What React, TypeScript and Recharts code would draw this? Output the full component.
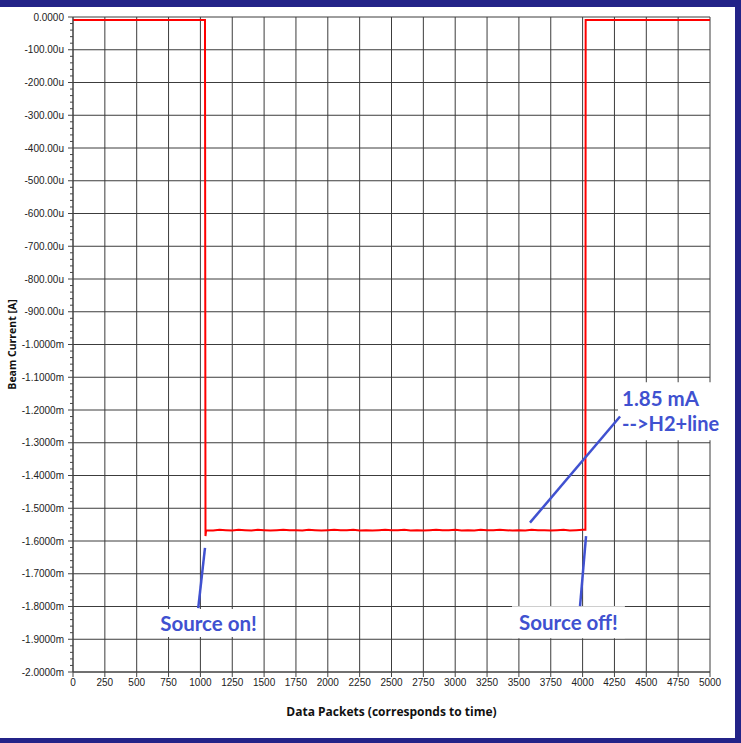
import React from 'react';
import { LineChart, Line, XAxis, YAxis, CartesianGrid, ReferenceLine, ReferenceArea } from 'recharts';

// Data packets (x) and beam current in microamps (y)
const packets = [
  0, 500, 1036, 1040, 1045, 1100, 1150, 1200, 1250, 1300, 1350, 1400, 1450, 1500, 1550,
  1600, 1650, 1700, 1750, 1800, 1850, 1900, 1950, 2000, 2050, 2100, 2150, 2200, 2250,
  2300, 2350, 2400, 2450, 2500, 2550, 2600, 2650, 2700, 2750, 2800, 2850, 2900, 2950,
  3000, 3050, 3100, 3150, 3200, 3250, 3300, 3350, 3400, 3450, 3500, 3550, 3600, 3650,
  3700, 3750, 3800, 3850, 3900, 3950, 4000, 4018, 4022, 4024, 4500, 5000,
];
const beamCurrentMicroA = [
  -9, -9, -9, -1585, -1567, -1568, -1566, -1567, -1568, -1566, -1567, -1568, -1566, -1567, -1568,
  -1567, -1566, -1567, -1567, -1568, -1566, -1567, -1568, -1567, -1566, -1567, -1567, -1566, -1568,
  -1567, -1568, -1567, -1566, -1567, -1567, -1566, -1568, -1567, -1568, -1567, -1566, -1567, -1567,
  -1566, -1568, -1567, -1568, -1566, -1567, -1567, -1566, -1567, -1568, -1567, -1568, -1566, -1567,
  -1567, -1568, -1567, -1566, -1568, -1567, -1566, -1566, -1566, -9, -9, -9,
];

const xTicks = [0, 250, 500, 750, 1000, 1250, 1500, 1750, 2000, 2250, 2500, 2750, 3000, 3250, 3500, 3750, 4000, 4250, 4500, 4750, 5000];
const yMajorTicks = [0, -100, -200, -300, -400, -500, -600, -700, -800, -900, -1000, -1100, -1200, -1300, -1400, -1500, -1600, -1700, -1800, -1900, -2000];
const yAllTicks = Array.from({ length: 101 }, (_, i) => -i * 20);

// Annotations (data coordinates)
const sourceOnLine = [{ x: 983, y: -1805 }, { x: 1036, y: -1621 }];
const sourceOffLine = [{ x: 3980, y: -1799 }, { x: 4027, y: -1585 }];
const h2Line = [{ x: 3587, y: -1544 }, { x: 4294, y: -1220 }];
const sourceOnBox = { x1: 644, x2: 1484, y1: -1808, y2: -1893, text: 'Source on!' };
const sourceOffBox = { x1: 3446, x2: 4332, y1: -1799, y2: -1897, text: 'Source off!' };
const h2Box = { x1: 4278, x2: 5078, y1: -1115, y2: -1292, lines: ['1.85 mA', '-->H2+line'] };

const data = packets.map((p, i) => ({ x: p, y: beamCurrentMicroA[i] }));

const BLUE = '#4051D0';
const NAVY = '#232388';
const TICK_FONT = '"Liberation Sans", Arial, sans-serif';
const TITLE_FONT = '"Open Sans", sans-serif';
const ANNOT_FONT = 'Lato, "Open Sans", sans-serif';
const ANNOT_SIZE = 20.5;

const fmtY = (v: number) => {
  if (v === 0) return '0.0000';
  if (Math.abs(v) < 1000) return `${v.toFixed(2)}u`;
  return `${(v / 1000).toFixed(4)}m`;
};

const YTick = (props: any) => {
  const { x, y, payload } = props;
  const v = payload.value as number;
  const major = Math.round(v) % 100 === 0;
  const len = major ? 5 : 3;
  return (
    <g>
      <line x1={x} x2={x - len} y1={y} y2={y} stroke="#444" strokeWidth={1} />
      {major && (
        <text x={x - 9} y={y} textAnchor="end" dominantBaseline="central" fontSize={10} fill="#222" fontFamily={TICK_FONT}>
          {fmtY(v)}
        </text>
      )}
    </g>
  );
};

const CenterLabel = (text: string) => (props: any) => {
  const vb = props.viewBox || {};
  return (
    <text
      x={vb.x + vb.width / 2}
      y={vb.y + vb.height / 2}
      textAnchor="middle"
      dominantBaseline="central"
      fontSize={ANNOT_SIZE}
      fontWeight={700}
      fill={BLUE}
      fontFamily={ANNOT_FONT}
    >
      {text}
    </text>
  );
};

const TwoLineLabel = (lines: string[]) => (props: any) => {
  const vb = props.viewBox || {};
  return (
    <g>
      {lines.map((t, i) => (
        <text
          key={i}
          x={vb.x + 4}
          y={vb.y + 16 + i * 25}
          dominantBaseline="central"
          fontSize={i === 1 ? 20 : ANNOT_SIZE}
          fontWeight={700}
          fill={BLUE}
          fontFamily={ANNOT_FONT}
        >
          {t}
        </text>
      ))}
    </g>
  );
};

export default function App() {
  return (
    <div style={{ position: 'absolute', left: 0, top: 0, width: 741, height: 743, background: '#fff', overflow: 'hidden' }}>
      <LineChart width={741} height={743} data={data} margin={{ top: 17, right: 31, bottom: 25, left: 0 }}>
        <CartesianGrid stroke="#3c3c3c" strokeWidth={1} horizontalValues={yMajorTicks} verticalValues={xTicks} />
        <XAxis
          type="number"
          dataKey="x"
          domain={[0, 5000]}
          ticks={xTicks}
          interval={0}
          tickSize={5}
          tickMargin={2}
          height={46}
          stroke="#444"
          tick={{ fontSize: 10, fill: '#222', fontFamily: TICK_FONT }}
          label={{
            value: 'Data Packets (corresponds to time)',
            position: 'insideBottom',
            offset: 2,
            fontSize: 12,
            fontWeight: 700,
            fill: '#111',
            fontFamily: TITLE_FONT,
          }}
        />
        <YAxis
          type="number"
          domain={[-2000, 0]}
          ticks={yAllTicks}
          interval={0}
          width={73}
          tickSize={0}
          tickMargin={0}
          tickLine={false}
          stroke="#444"
          tick={<YTick />}
          label={{
            value: 'Beam Current [A]',
            angle: -90,
            position: 'insideLeft',
            offset: 12,
            style: { textAnchor: 'middle' },
            fontSize: 10.5,
            fontWeight: 700,
            fill: '#111',
            fontFamily: TITLE_FONT,
          }}
        />
        <ReferenceArea x1={sourceOnBox.x1} x2={sourceOnBox.x2} y1={sourceOnBox.y1} y2={sourceOnBox.y2} fill="#fff" fillOpacity={1} stroke="none" ifOverflow="visible" label={CenterLabel(sourceOnBox.text)} />
        <ReferenceArea x1={sourceOffBox.x1} x2={sourceOffBox.x2} y1={sourceOffBox.y1} y2={sourceOffBox.y2} fill="#fff" fillOpacity={1} stroke="none" ifOverflow="visible" label={CenterLabel(sourceOffBox.text)} />
        <ReferenceArea x1={h2Box.x1} x2={h2Box.x2} y1={h2Box.y1} y2={h2Box.y2} fill="#fff" fillOpacity={1} stroke="none" ifOverflow="visible" label={TwoLineLabel(h2Box.lines)} />
        <Line type="linear" dataKey="y" stroke="#ff0000" strokeWidth={2} dot={false} isAnimationActive={false} />
        <ReferenceLine segment={sourceOnLine} stroke={BLUE} strokeWidth={2.5} ifOverflow="visible" />
        <ReferenceLine segment={sourceOffLine} stroke={BLUE} strokeWidth={2.5} ifOverflow="visible" />
        <ReferenceLine segment={h2Line} stroke={BLUE} strokeWidth={2.5} ifOverflow="visible" />
      </LineChart>
      <div style={{ position: 'absolute', left: 0, top: 0, width: 741, height: 7, background: NAVY }} />
      <div style={{ position: 'absolute', left: 735, top: 0, width: 6, height: 743, background: NAVY }} />
      <div style={{ position: 'absolute', left: 0, top: 738, width: 741, height: 5, background: NAVY }} />
    </div>
  );
}
